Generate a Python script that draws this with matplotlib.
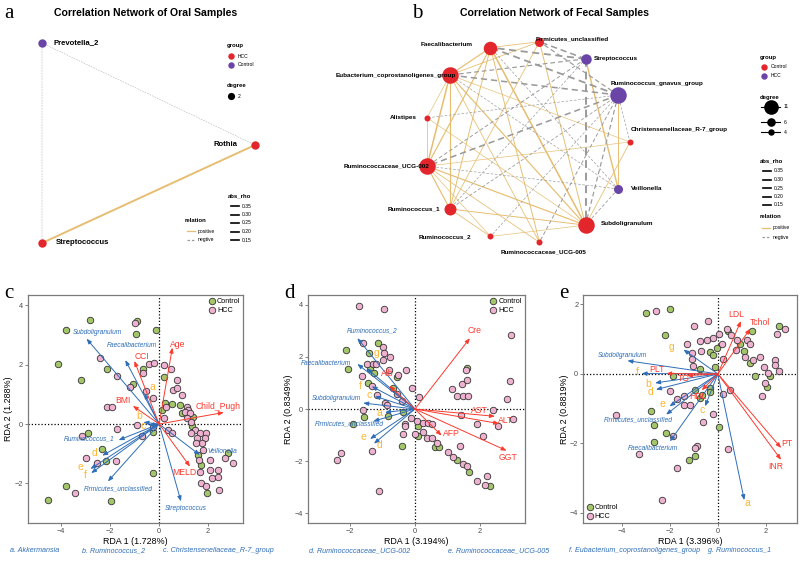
import numpy as np
import matplotlib
matplotlib.use('Agg')
import matplotlib.pyplot as plt

plt.rcParams['font.family'] = ['Liberation Sans', 'DejaVu Sans']

# ======================= DATA =======================
# --- panel a: oral network ---
oral_nodes = ['Prevotella_2', 'Rothia', 'Streptococcus']
oral_group = ['Control', 'HCC', 'HCC']
oral_edges = [('Prevotella_2', 'Rothia', 'negative', 0.15),
              ('Prevotella_2', 'Streptococcus', 'negative', 0.15),
              ('Rothia', 'Streptococcus', 'positive', 0.35)]

# --- panel b: fecal network (circle layout order) ---
fecal_nodes = ['C', 'RG', 'S', 'FU', 'F', 'E', 'A', 'U2', 'R1', 'R2', 'U5', 'Sub', 'V']
fecal_names = {'C': 'Christensenellaceae_R-7_group', 'RG': 'Ruminococcus_gnavus_group',
               'S': 'Streptococcus', 'FU': 'Firmicutes_unclassified', 'F': 'Faecalibacterium',
               'E': 'Eubacterium_coprostanoligenes_group', 'A': 'Alistipes',
               'U2': 'Ruminococcaceae_UCG-002', 'R1': 'Ruminococcus_1', 'R2': 'Ruminococcus_2',
               'U5': 'Ruminococcaceae_UCG-005', 'Sub': 'Subdoligranulum', 'V': 'Veillonella'}
fecal_group = {'C': 'Control', 'RG': 'HCC', 'S': 'HCC', 'FU': 'Control', 'F': 'Control',
               'E': 'Control', 'A': 'Control', 'U2': 'Control', 'R1': 'Control', 'R2': 'Control',
               'U5': 'Control', 'Sub': 'Control', 'V': 'HCC'}
fecal_edges = [
    ('F', 'E', 'positive', .25), ('F', 'Sub', 'positive', .30), ('F', 'U2', 'positive', .25),
    ('F', 'U5', 'positive', .22), ('F', 'R1', 'positive', .22), ('F', 'FU', 'positive', .20),
    ('E', 'U2', 'positive', .30), ('E', 'Sub', 'positive', .25), ('E', 'A', 'positive', .18),
    ('E', 'U5', 'positive', .20), ('E', 'R1', 'positive', .25), ('E', 'FU', 'positive', .20),
    ('E', 'C', 'positive', .18), ('U2', 'A', 'positive', .20), ('U2', 'C', 'positive', .18),
    ('U2', 'R2', 'positive', .18), ('U2', 'U5', 'positive', .20), ('U2', 'Sub', 'positive', .25),
    ('U2', 'R1', 'positive', .25), ('Sub', 'R1', 'positive', .22), ('Sub', 'FU', 'positive', .22),
    ('Sub', 'A', 'positive', .18), ('Sub', 'C', 'positive', .20), ('Sub', 'R2', 'positive', .18),
    ('R1', 'R2', 'positive', .20), ('R1', 'FU', 'positive', .20), ('RG', 'V', 'positive', .22),
    ('S', 'V', 'positive', .28),
    ('RG', 'F', 'negative', .33), ('RG', 'FU', 'negative', .25), ('RG', 'E', 'negative', .30),
    ('RG', 'A', 'negative', .18), ('RG', 'U2', 'negative', .30), ('RG', 'R1', 'negative', .20),
    ('RG', 'Sub', 'negative', .25), ('RG', 'C', 'negative', .18), ('RG', 'R2', 'negative', .18),
    ('RG', 'U5', 'negative', .22), ('S', 'F', 'negative', .33), ('S', 'FU', 'negative', .30),
    ('S', 'E', 'negative', .25), ('S', 'U2', 'negative', .22), ('S', 'R1', 'negative', .18),
    ('S', 'Sub', 'negative', .35), ('V', 'Sub', 'negative', .20), ('V', 'U2', 'negative', .18),
    ('V', 'F', 'negative', .18), ('V', 'E', 'negative', .18)]

# --- panel c: RDA (oral) ---
c_x = [-2.84, -3.78, -1.00, -0.91, -0.93, -0.14, -4.12, -2.43, -3.18, -2.12,
       -1.72, -1.20, -1.08, -0.66, -0.64, -0.41, -0.20, 0.20, 0.49, 0.20,
       0.72, 0.55, 0.72, 0.92, -0.54, -0.23, 0.22, 0.54, 0.27, 0.85,
       0.92, 1.12, 1.19, 1.05, 1.26, 1.39, 1.12, 1.32, 1.36, 1.46,
       1.28, 1.66, 1.93, 1.53, 1.86, 1.73, 1.50, 1.80, 1.59, 1.64,
       2.07, 1.69, 2.07, 1.66, 2.41, 2.81, 2.68, 3.01, 2.14, 2.41,
       1.69, 1.93, 2.45, 1.97, 0.18, 0.38, 0.51, 0.11, -0.23, -0.26,
       -0.70, -0.91, -1.72, -2.12, -1.92, -3.16, -2.89, -2.35, -2.99, -2.53,
       -2.15, -1.74, -3.78, -3.43, -4.55, -1.95, -0.23]
c_y = [3.51, 3.17, 3.40, 3.45, 3.04, 3.17, 2.01, 2.22, 1.47, 1.84,
       1.61, 1.23, 1.36, 1.84, 1.70, 2.03, 2.06, 2.00, 1.84, 1.59,
       1.47, 1.14, 1.20, 0.97, 1.12, 0.86, 0.72, 0.69, 0.58, 0.64,
       0.36, 0.58, 0.47, 0.41, 0.36, 0.25, 0.19, 0.08, -0.07, -0.20,
       -0.31, -0.31, -0.31, -0.48, -0.48, -0.65, -0.65, -0.87, -1.04, -1.21,
       -1.21, -1.37, -1.54, -1.60, -1.54, -0.98, -1.15, -1.30, -1.82, -1.77,
       -1.97, -2.10, -2.21, -2.32, 0.19, -0.20, -0.31, 0.47, -0.26, -0.09,
       -0.40, -0.03, -0.18, 0.56, 0.58, -0.39, -0.31, -0.85, -1.15, -1.32,
       -1.24, -1.26, -2.07, -2.32, -2.55, -2.60, -1.65]
c_grp = list('GGHGGGGHGG' 'HHGGHHHHHG' 'HHHHHHGGHG' 'GHHHHGHHGH' 'HHHHHHHHGH'
             'HGHHHGHHHH' 'HHHGHHHGGH' 'HHHHHHGGHH' 'GHGHGGG')
c_sp = ['Subdoligranulum', 'Faecalibacterium', 'Ruminococcus_1', 'Veillonella', 'Streptococcus',
        'Firmicutes_unclassified', 'a', 'b', 'c', 'd', 'e', 'f']
c_sp_x = [-2.96, -1.38, -1.65, 1.66, 0.89, -2.09, -0.60, -0.64, -0.43, -2.32, -2.80, -2.77]
c_sp_y = [2.87, 2.15, -0.54, -1.04, -2.60, -1.93, 1.03, 0.06, -0.03, -1.06, -1.51, -1.65]
c_env = ['Age', 'CCI', 'BMI', 'Child_Pugh', 'MELD']
c_env_x = [0.54, -1.01, -1.07, 2.64, 1.26]
c_env_y = [2.57, 2.12, 0.61, 0.39, -1.43]

# --- panel d: RDA (fecal, liver/renal) ---
d_x = [-1.72, -0.94, 2.97, -2.12, -1.59, -1.15, -1.42, -0.97, -0.94, -0.77,
       -0.97, -1.47, -1.28, -1.20, -2.05, -1.64, -1.38, -1.26, -0.79, -0.51,
       -0.28, -0.56, -1.44, -1.33, -1.18, -0.67, -0.56, -0.41, -0.92, -0.87,
       -0.08, 0.13, -1.61, -1.57, -1.90, -0.82, -0.38, -0.31, -0.31, -0.38,
       -0.13, 0.05, 0.10, 0.26, 0.41, 0.54, 0.00, 0.10, 0.24, 0.36,
       0.51, 0.67, 0.62, 0.75, -0.41, -1.31, -2.28, -2.39, -1.10, 1.38,
       1.03, 1.16, 1.28, 1.47, 1.59, 1.67, 1.90, 2.15, 2.31, 2.21,
       1.41, 1.90, 2.08, 2.41, 2.56, 2.82, 3.03, 2.92, 1.13, 1.30,
       1.47, 1.64, 1.44, 1.61, 1.59, 1.57]
d_y = [3.94, 3.83, 2.85, 2.25, 2.53, 2.53, 2.17, 2.38, 2.17, 1.99,
       1.89, 1.74, 1.74, 1.74, 1.53, 1.25, 1.53, 1.38, 1.48, 1.32,
       1.51, 1.23, 1.00, 0.87, 0.55, 0.81, 0.59, 0.29, 0.23, 0.17,
       0.81, 0.46, -0.03, -0.32, -0.58, -0.26, -0.13, -0.56, -0.66, -0.96,
       -0.35, -0.47, -0.66, -0.54, -0.54, -0.56, -0.96, -1.05, -0.88, -1.11,
       -1.11, -1.30, -1.46, -1.46, -1.41, -1.60, -1.69, -1.94, -3.16, -1.43,
       -1.66, -1.84, -1.94, -2.10, -2.20, -2.43, -2.77, -2.90, -2.96, -2.56,
       -0.22, -0.56, -1.05, -0.05, -0.66, 0.38, -0.38, 1.09, 0.77, 0.49,
       0.49, 0.49, 0.97, 1.12, 1.57, 1.51]
d_grp = list('HHHGHGGHHH' 'HHHHGHGGHH' 'HGGHHGHHHH' 'HHHGGGGHHH' 'HHGHHHHGHH'
             'HHGGGHHHHH' 'HHGHHGHHGH' 'HHHHHHHHHH' 'HHHHGH')
d_sp = ['Ruminococcus_2', 'Faecalibacterium', 'Subdoligranulum', 'Firmicutes_unclassified',
        'g', 'f', 'c', 'a', 'e', 'd']
d_sp_x = [-1.77, -1.77, -1.59, -1.28, -1.49, -1.33, -1.23, -0.92, -1.38, -1.26]
d_sp_y = [2.72, 1.73, 0.23, -0.47, 1.57, 0.87, 0.49, -0.13, -1.15, -1.33]
d_env = ['Cre', 'Alb', 'AST', 'ALT', 'AFP', 'GGT']
d_env_x = [1.69, -0.79, 2.46, 2.59, 0.82, 2.82]
d_env_y = [2.72, 0.89, -0.28, -0.56, -1.02, -1.60]

# --- panel e: RDA (fecal, lipids/coagulation) ---
e_x = [-3.00, -2.57, -1.99, -2.19, -0.42, -1.01, 2.53, 2.81, 2.46, -1.29,
       -0.76, -0.46, -0.21, 0.03, 0.38, 0.44, 0.56, 0.79, 0.93, 1.21,
       1.42, 1.35, 1.07, 0.76, 0.17, -0.04, -0.32, -0.21, -0.69, -1.08,
       -1.07, -1.04, -0.76, -0.11, 0.21, 1.14, 1.46, 1.76, 1.35, 1.90,
       2.07, 2.18, 1.56, 2.39, 2.36, 2.53, 1.97, 2.04, 1.83, -1.85,
       -1.99, -1.71, -1.40, -0.97, -1.40, -1.15, -0.76, -0.67, -0.32, -0.32,
       0.21, 0.49, -0.21, -0.63, 0.03, -4.24, -2.78, -2.65, -2.15, -1.85,
       -2.65, -3.28, -0.88, -0.97, -0.96, -1.22, -1.71, 0.44, -2.33]
e_y = [1.76, 1.81, 1.88, 1.13, 1.52, 1.38, 1.39, 1.30, 1.16, 0.85,
       0.94, 0.99, 1.04, 1.16, 1.28, 1.23, 1.13, 0.99, 0.85, 0.99,
       1.23, 0.85, 0.65, 0.70, 0.85, 0.75, 0.63, 0.53, 0.65, 0.59,
       0.43, 0.22, 0.14, 0.19, 0.43, 0.49, 0.41, 0.49, 0.30, 0.20,
       0.03, -0.05, -0.07, 0.41, 0.27, 0.08, -0.26, -0.38, -0.63, -0.05,
       -0.50, -0.72, -0.63, -0.47, -0.88, -0.88, -0.69, -0.60, -0.40, -0.53,
       -0.57, -0.47, -1.14, -1.37, -1.53, -1.17, -1.08, -1.46, -1.70, -1.80,
       -1.97, -2.30, -2.07, -2.13, -2.36, -2.49, -2.72, -2.16, -3.63]
e_grp = list('GHGGHHGHHH' 'HHHHHGHHGH' 'GHGHHGGGHH' 'HHGGHHHHGH' 'HGGHHHHGHG'
             'HHHGHHGGGG' 'HHHHGHGGGH' 'GHHHGGHHH')
e_sp = ['Subdoligranulum', 'Firmicutes_unclassified', 'Faecalibacterium', 'a', 'g', 'f', 'b', 'd', 'e', 'c']
e_sp_x = [-3.76, -2.15, -1.99, 1.10, -1.43, -3.17, -2.61, -2.57, -2.01, -0.53]
e_sp_y = [0.38, -1.17, -1.94, -3.63, 0.70, 0.01, -0.26, -0.45, -0.93, -0.93]
e_env = ['LDL', 'Tchol', 'PLT', 'TG', 'HDL', 'PT', 'INR']
e_env_x = [0.96, 1.35, -2.15, -1.29, -0.67, 2.63, 2.63]
e_env_y = [1.52, 1.30, 0.01, -0.05, -0.47, -2.13, -2.47]

caption = ['a. Akkermansia', 'b. Ruminococcus_2', 'c. Christensenellaceae_R-7_group',
           'd. Ruminococcaceae_UCG-002', 'e. Ruminococcaceae_UCG-005',
           'f. Eubacterium_coprostanoligenes_group', 'g. Ruminococcus_1']

# ======================= LAYOUT / STYLE =======================
RED = '#E3262C'
PURPLE = '#6A44A6'
GOLD = '#E6BE72'
GRAY = '#9A9A9A'
GREEN_PT = '#A3C66A'
PINK_PT = '#EFB1D0'
BLUE = '#2E6DB8'
ARED = '#FB3A2E'
ORANGE = '#FDB633'
SERIF = ['Liberation Serif', 'DejaVu Serif']

W, H = 800, 563
fig = plt.figure(figsize=(8, 5.63), dpi=100)
ov = fig.add_axes([0, 0, 1, 1])
ov.set_xlim(0, W)
ov.set_ylim(H, 0)
ov.axis('off')


def r2s(r_px):
    return (2 * r_px * 0.72) ** 2


def rho_lw(rho):
    return 0.3 + (rho - 0.15) / 0.2 * 1.1


def draw_edge(p, q, rel, rho):
    if rel == 'positive':
        ov.plot([p[0], q[0]], [p[1], q[1]], color=GOLD, lw=rho_lw(rho), zorder=1,
                solid_capstyle='butt')
    else:
        ov.plot([p[0], q[0]], [p[1], q[1]], color=GRAY, lw=rho_lw(rho), zorder=1,
                linestyle=(0, (4, 2.5)))


def net_legend(x, y, groups, colors, deg_items, abs_x, abs_y, rel_x, rel_y):
    fs_t, fs_i = 4.3, 3.6
    ov.text(x, y, 'group', fontsize=fs_t, fontweight='bold', va='center', zorder=5)
    for i, (g, col) in enumerate(zip(groups, colors)):
        yy = y + 10 + i * 8.5
        ov.scatter([x + 4], [yy], s=r2s(3.2), color=col, zorder=5, lw=0)
        ov.text(x + 11, yy, g, fontsize=fs_i, va='center', zorder=5)
    ov.text(x, y + 40, 'degree', fontsize=fs_t, fontweight='bold', va='center', zorder=5)
    yy = y + 50
    for lab, r, dy in deg_items:
        yy += dy
        if len(deg_items) > 1:
            ov.plot([x + 1, x + 20], [yy, yy], color='black', lw=0.8, zorder=5)
            ov.scatter([x + 11], [yy], s=r2s(r), color='black', zorder=5, lw=0)
            ov.text(x + 24, yy, lab, fontsize=fs_i, va='center', zorder=5)
        else:
            ov.scatter([x + 4], [yy], s=r2s(r), color='black', zorder=5, lw=0)
            ov.text(x + 11, yy, lab, fontsize=fs_i, va='center', zorder=5)
    ov.text(abs_x, abs_y, 'abs_rho', fontsize=fs_t, fontweight='bold', va='center', zorder=5)
    for i, v in enumerate([0.35, 0.30, 0.25, 0.20, 0.15]):
        yy = abs_y + 10 + i * 8.5
        ov.plot([abs_x + 3, abs_x + 11], [yy, yy], color='black', lw=1.2, zorder=5)
        ov.text(abs_x + 14, yy, f'{v:.2f}', fontsize=fs_i, va='center', zorder=5)
    ov.text(rel_x, rel_y, 'relation', fontsize=fs_t, fontweight='bold', va='center', zorder=5)
    ov.plot([rel_x + 2, rel_x + 10], [rel_y + 11, rel_y + 11], color=GOLD, lw=0.9, zorder=5)
    ov.text(rel_x + 13, rel_y + 11, 'positive', fontsize=fs_i, va='center', zorder=5)
    ov.plot([rel_x + 2, rel_x + 10], [rel_y + 20, rel_y + 20], color=GRAY, lw=0.9,
            linestyle=(0, (2, 1.5)), zorder=5)
    ov.text(rel_x + 13, rel_y + 20, 'negtive', fontsize=fs_i, va='center', zorder=5)


# ---------- panel a ----------
a_layout = {'Prevotella_2': (0.0, 1.0), 'Rothia': (1.0, 0.49), 'Streptococcus': (0.0, 0.0)}
a_box = (42, 243, 213, 200)  # x0, y0 (bottom), width, height in px


def a_pos(n):
    lx, ly = a_layout[n]
    return (a_box[0] + lx * a_box[2], a_box[1] - ly * a_box[3])


for p, q, rel, rho in oral_edges:
    draw_edge(a_pos(p), a_pos(q), rel, rho)
for n, g in zip(oral_nodes, oral_group):
    x, y = a_pos(n)
    ov.scatter([x], [y], s=r2s(4.2), color=RED if g == 'HCC' else PURPLE, zorder=3, lw=0)
a_lab = {'Prevotella_2': (11, 0, 'left'), 'Rothia': (-17, 0, 'right'), 'Streptococcus': (14, 0, 'left')}
for n in oral_nodes:
    x, y = a_pos(n)
    dx, dy, ha = a_lab[n]
    ov.text(x + dx, y + dy, n, fontsize=5.6, fontweight='bold', ha=ha, va='center', zorder=4)
ov.text(146, 13, 'Correlation Network of Oral Samples', fontsize=7.6, fontweight='bold',
        ha='center', va='center')
ov.text(4, 14, 'a', fontsize=15, family=SERIF, va='center')
net_legend(227, 46, ['HCC', 'Control'], [RED, PURPLE], [('2', 3.6, 0)], 228, 196, 185, 220)

# ---------- panel b ----------
cx, cy, rx, ry = 527, 142, 103, 101
b_pos = {}
for k, n in enumerate(fecal_nodes):
    ang = 2 * np.pi * k / len(fecal_nodes)
    b_pos[n] = (cx + rx * np.cos(ang), cy - ry * np.sin(ang))
degree = {n: 0 for n in fecal_nodes}
for p, q, rel, rho in fecal_edges:
    degree[p] += 1
    degree[q] += 1
    draw_edge(b_pos[p], b_pos[q], rel, rho)
for n in fecal_nodes:
    x, y = b_pos[n]
    ov.scatter([x], [y], s=r2s(0.75 * degree[n]),
               color=RED if fecal_group[n] == 'Control' else PURPLE, zorder=3, lw=0)
b_lab = {'C': (1, -12, 'left'), 'RG': (-8, -12, 'left'), 'S': (8, 0, 'left'), 'FU': (-4, -3, 'left'),
         'F': (-18, -3, 'right'), 'E': (6, 0, 'right'), 'A': (-10, 0, 'right'), 'U2': (2, 0, 'right'),
         'R1': (-10, 0, 'right'), 'R2': (-19, 0, 'right'), 'U5': (4, 10, 'center'),
         'Sub': (15, -2, 'left'), 'V': (13, 0, 'left')}
for n in fecal_nodes:
    x, y = b_pos[n]
    dx, dy, ha = b_lab[n]
    ov.text(x + dx, y + dy, fecal_names[n], fontsize=4.6, fontweight='bold', ha=ha, va='center',
            zorder=4)
ov.text(554, 13, 'Correlation Network of Fecal Samples', fontsize=7.6, fontweight='bold',
        ha='center', va='center')
ov.text(412, 14, 'b', fontsize=15, family=SERIF, va='center')
net_legend(760, 57, ['Control', 'HCC'], [RED, PURPLE],
           [('11', 7.3, 0), ('6', 4.3, 15), ('4', 3.2, 10)], 760, 161, 760, 217)


# ---------- RDA panels ----------
def rda(rect, letter, px, py, grp, sp, spx, spy, sp_lab, env, envx, envy, env_lab,
        xlim, ylim, xticks, yticks, xlabel, ylabel, legloc):
    ax = fig.add_axes(rect)
    ax.set_xlim(*xlim)
    ax.set_ylim(*ylim)
    ax.axhline(0, color='black', lw=0.9, ls=(0, (1, 1.6)), zorder=1)
    ax.axvline(0, color='black', lw=0.9, ls=(0, (1, 1.6)), zorder=1)
    grp = np.array(grp)
    px = np.array(px)
    py = np.array(py)
    for g, col, lab in [('G', GREEN_PT, 'Control'), ('H', PINK_PT, 'HCC')]:
        m = grp == g
        ax.scatter(px[m], py[m], s=22, color=col, edgecolor='#333333', lw=0.6, zorder=2, label=lab)
    for names, xs, ys, labs, col in [(sp, spx, spy, sp_lab, BLUE), (env, envx, envy, env_lab, ARED)]:
        for n, x, y, (lx, ly) in zip(names, xs, ys, labs):
            ax.annotate('', xy=(x, y), xytext=(0, 0),
                        arrowprops=dict(arrowstyle='-|>,head_length=0.55,head_width=0.22',
                                        mutation_scale=5.5, color=col, lw=0.7,
                                        shrinkA=0, shrinkB=0), zorder=3)
            if len(n) == 1:
                ax.text(lx, ly, n, color=ORANGE, fontsize=7.5, ha='center', va='center', zorder=4)
            elif col == BLUE:
                ax.text(lx, ly, n, color=BLUE, fontsize=4.8, style='italic', ha='center',
                        va='center', zorder=4)
            else:
                ax.text(lx, ly, n, color=ARED, fontsize=6.2, ha='center', va='center', zorder=4)
    ax.set_xticks(xticks)
    ax.set_yticks(yticks)
    ax.tick_params(labelsize=5.3, length=2, width=0.5, colors='#4D4D4D', pad=1.5)
    for s in ax.spines.values():
        s.set_color('#7A7A7A')
        s.set_linewidth(0.9)
    ax.set_xlabel(xlabel, fontsize=6.4, labelpad=1.5)
    ax.set_ylabel(ylabel, fontsize=6.4, labelpad=1)
    ax.legend(loc=legloc, frameon=False, fontsize=5.2, handletextpad=0.2,
              borderaxespad=0.2, labelspacing=0.25, handlelength=1.0, borderpad=0.2)
    pos = ax.get_position()
    fig.text(pos.x0 - 0.03, pos.y1 + 0.003, letter, fontsize=15, family=SERIF, ha='left',
             va='center')
    return ax


c_sp_lab = [(-2.53, 3.07), (-1.11, 2.65), (-2.86, -0.50), (2.58, -0.93), (1.09, -2.85), (-1.65, -2.18),
            (-0.26, 1.23), (-0.80, 0.28), (-0.64, -0.07), (-2.62, -0.96), (-3.20, -1.46), (-3.03, -1.73)]
c_env_lab = [(0.74, 2.68), (-0.70, 2.26), (-1.47, 0.80), (2.41, 0.60), (1.03, -1.62)]
rda([0.035, 0.071, 0.269, 0.405], 'c', c_x, c_y, c_grp, c_sp, c_sp_x, c_sp_y, c_sp_lab,
    c_env, c_env_x, c_env_y, c_env_lab, (-5.35, 3.43), (-3.33, 4.34), [-4, -2, 0, 2], [-2, 0, 2, 4],
    'RDA 1 (1.728%)', 'RDA 2 (1.288%)', 'upper right')

d_sp_lab = [(-1.33, 3.00), (-2.74, 1.73), (-2.43, 0.42), (-2.03, -0.56), (-1.18, 2.17), (-1.69, 0.87),
            (-1.41, 0.55), (-1.08, -0.15), (-1.59, -1.09), (-1.08, -1.37)]
d_env_lab = [(1.85, 3.00), (-0.85, 1.38), (1.98, -0.05), (2.80, -0.45), (1.11, -0.95), (2.87, -1.85)]
rda([0.385, 0.071, 0.271, 0.405], 'd', d_x, d_y, d_grp, d_sp, d_sp_x, d_sp_y, d_sp_lab,
    d_env, d_env_x, d_env_y, d_env_lab, (-3.29, 3.38), (-4.38, 4.38), [-2, 0, 2], [-4, -2, 0, 2, 4],
    'RDA 1 (3.194%)', 'RDA 2 (0.8349%)', 'upper right')

e_sp_lab = [(-3.96, 0.53), (-3.31, -1.32), (-2.68, -2.16), (1.24, -3.72), (-1.92, 0.78), (-3.35, 0.05),
            (-2.89, -0.28), (-2.79, -0.53), (-2.31, -0.87), (-0.64, -1.05)]
e_env_lab = [(0.75, 1.71), (1.76, 1.49), (-2.54, 0.14), (-1.40, -0.13), (-0.81, -0.64), (2.88, -2.01),
             (2.39, -2.66)]
rda([0.729, 0.071, 0.2675, 0.405], 'e', e_x, e_y, e_grp, e_sp, e_sp_x, e_sp_y, e_sp_lab,
    e_env, e_env_x, e_env_y, e_env_lab, (-5.6, 3.3), (-4.29, 2.27), [-4, -2, 0, 2], [-4, -2, 0, 2],
    'RDA 1 (3.396%)', 'RDA 2 (0.8819%)', 'lower left')

cap_x = [10, 82, 163, 309, 448, 569, 708]
for t, x in zip(caption, cap_x):
    ov.text(x, 551, t, fontsize=5.1, style='italic', color=BLUE, va='center', ha='left')

fig.savefig('out.png', dpi=100)
